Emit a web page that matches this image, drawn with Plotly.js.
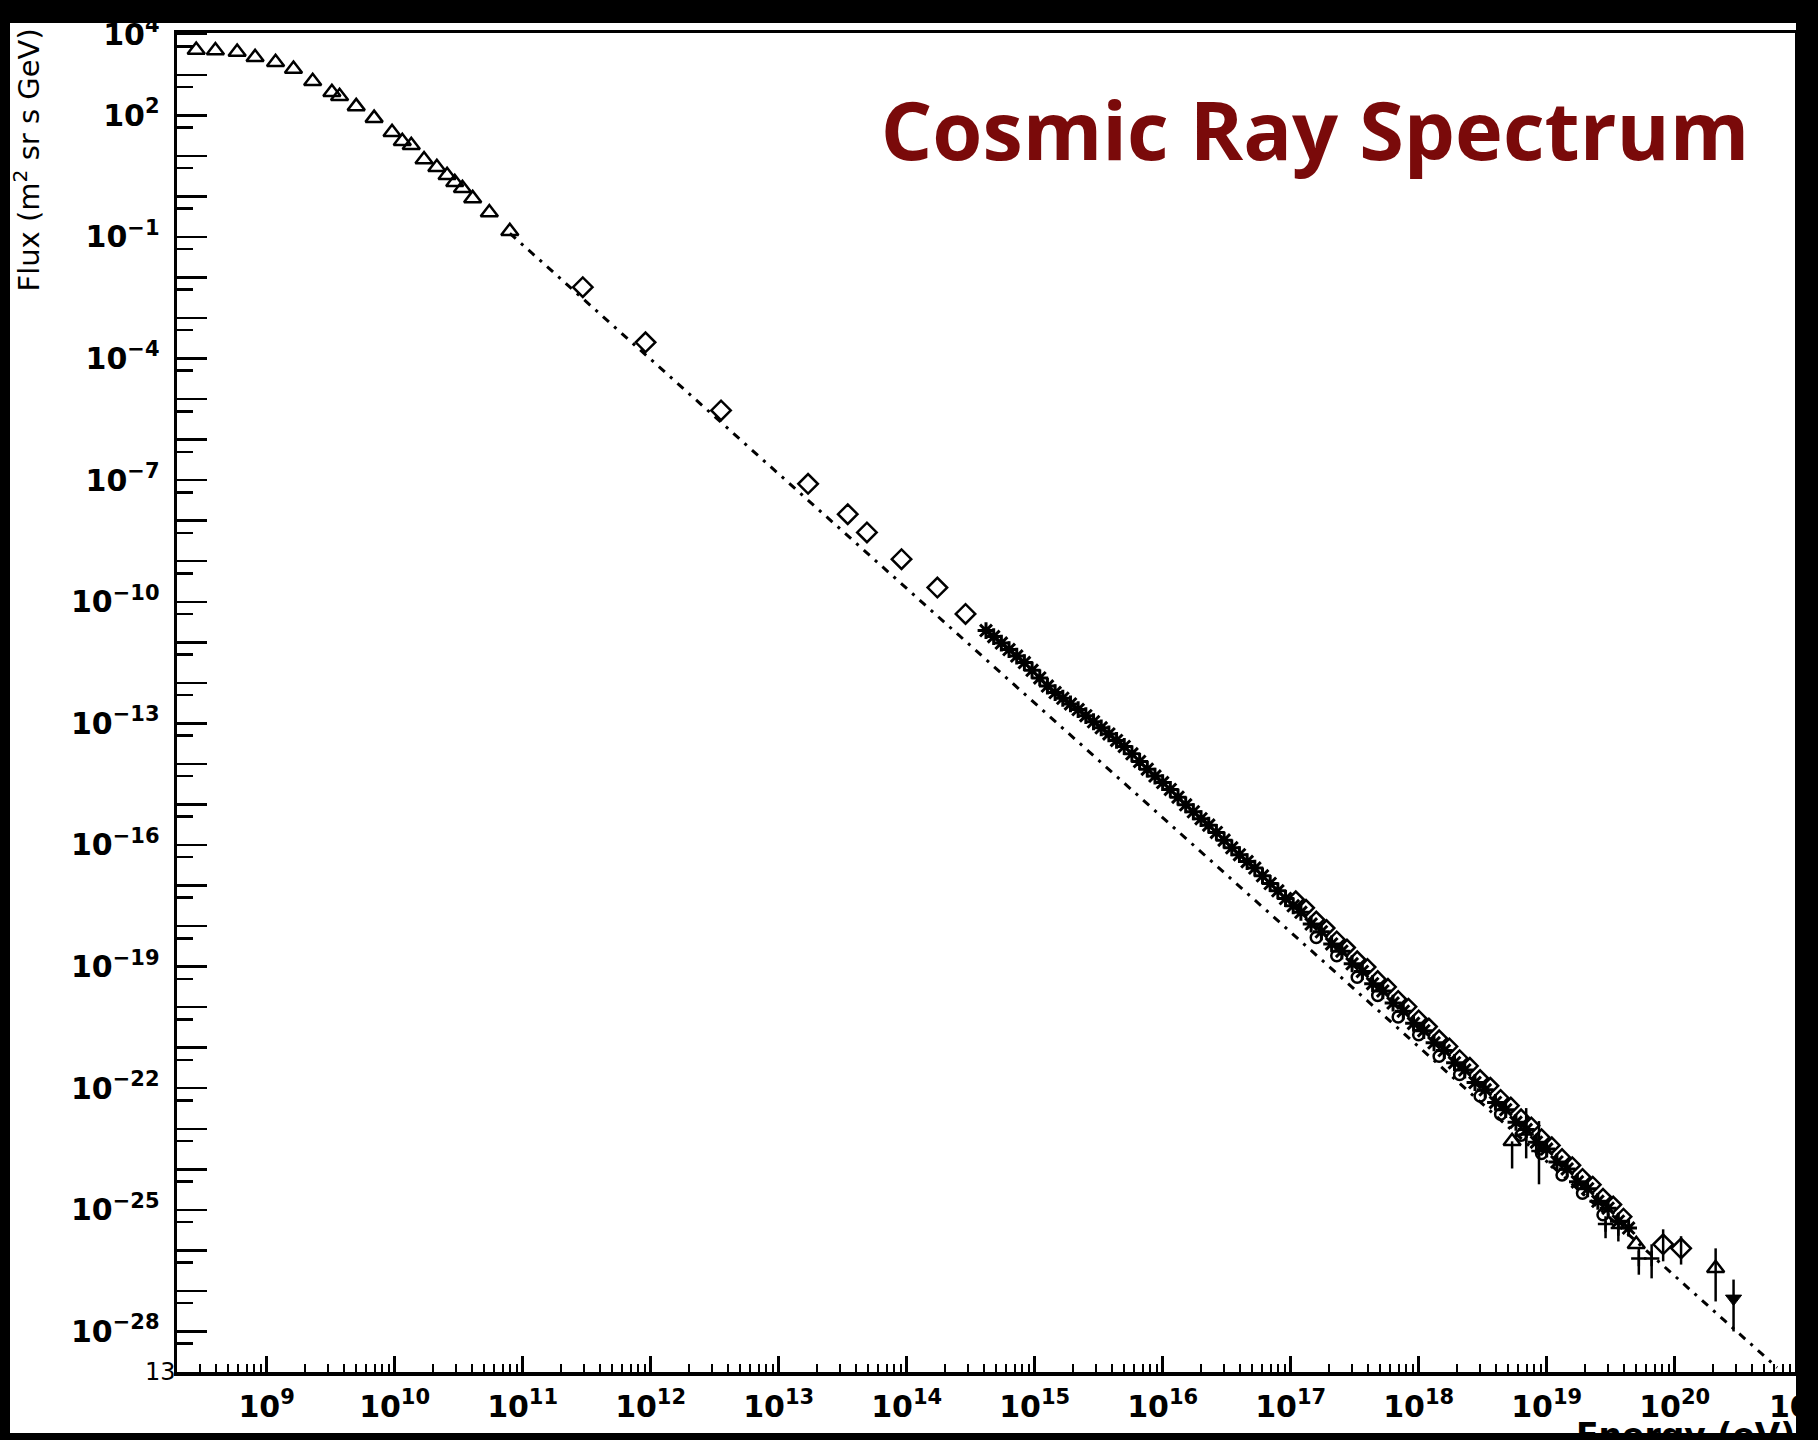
<!DOCTYPE html>
<html>
<head>
<meta charset="utf-8">
<script src="https://cdn.plot.ly/plotly-3.0.1.min.js"></script>
<style>
  html, body { margin: 0; padding: 0; background: #000; width: 1818px; height: 1440px; overflow: hidden; }
  #chart { position: absolute; left: 10px; top: 23px; width: 1786px; height: 1410px; background: #fff; }
</style>
</head>
<body>
<div id="chart"></div>
<script>
// All values are log10: energy in eV, flux in (m^2 sr s GeV)^-1

// Low-energy direct measurements (open triangles)
const triLogE = [8.45, 8.60, 8.77, 8.91, 9.07, 9.21, 9.36, 9.51, 9.57, 9.70, 9.84, 9.98, 10.06, 10.13, 10.23, 10.33, 10.41, 10.47, 10.53, 10.61, 10.74, 10.90];
const triLogF = [3.61, 3.60, 3.56, 3.43, 3.31, 3.14, 2.84, 2.57, 2.47, 2.22, 1.93, 1.58, 1.36, 1.26, 0.91, 0.72, 0.52, 0.35, 0.20, -0.05, -0.40, -0.86];

// Balloon / satellite points (open diamonds)
const diaLogE = [11.47, 11.96, 12.55, 13.23, 13.54, 13.69, 13.96, 14.24, 14.46];
const diaLogF = [-2.24, -3.60, -5.28, -7.09, -7.84, -8.29, -8.95, -9.65, -10.30];

// Air-shower band below 10^17 eV (asterisks)
const kneeLogE = [14.62, 14.68, 14.74, 14.80, 14.86, 14.92, 14.98, 15.04, 15.10, 15.16, 15.22, 15.28, 15.34, 15.40, 15.46, 15.52, 15.58, 15.64, 15.70, 15.76, 15.82, 15.88, 15.94, 16.00, 16.06, 16.12, 16.18, 16.24, 16.30, 16.36, 16.42, 16.48, 16.54, 16.60, 16.66, 16.72, 16.78, 16.84, 16.90, 16.96, 17.02];
const kneeLogF = [-10.71, -10.86, -11.02, -11.18, -11.34, -11.50, -11.69, -11.88, -12.08, -12.24, -12.38, -12.52, -12.66, -12.81, -12.96, -13.11, -13.26, -13.42, -13.57, -13.75, -13.94, -14.13, -14.30, -14.46, -14.63, -14.82, -15.01, -15.18, -15.35, -15.51, -15.69, -15.88, -16.07, -16.24, -16.41, -16.57, -16.76, -16.95, -17.13, -17.32, -17.50];

// Air-shower band above 10^17 eV (asterisks)
const ankleLogE = [17.08, 17.16, 17.24, 17.32, 17.40, 17.48, 17.56, 17.64, 17.72, 17.80, 17.88, 17.96, 18.04, 18.12, 18.20, 18.28, 18.36, 18.44, 18.52, 18.60, 18.68, 18.76, 18.84, 18.92, 19.00, 19.08, 19.16, 19.24, 19.32, 19.40, 19.48, 19.56, 19.64];
const ankleLogF = [-17.66, -17.95, -18.14, -18.44, -18.62, -18.93, -19.12, -19.42, -19.60, -19.90, -20.10, -20.40, -20.58, -20.88, -21.07, -21.37, -21.55, -21.86, -22.04, -22.35, -22.53, -22.84, -23.02, -23.33, -23.50, -23.82, -23.99, -24.31, -24.48, -24.79, -24.96, -25.28, -25.45];

// Second shower array (open diamonds)
const arrDiaLogE = [17.04, 17.12, 17.20, 17.28, 17.36, 17.44, 17.52, 17.60, 17.68, 17.76, 17.84, 17.92, 18.00, 18.08, 18.16, 18.24, 18.32, 18.40, 18.48, 18.56, 18.64, 18.72, 18.80, 18.88, 18.96, 19.04, 19.12, 19.20, 19.28, 19.36, 19.44, 19.52, 19.60];
const arrDiaLogF = [-17.34, -17.55, -17.84, -18.05, -18.33, -18.53, -18.82, -19.01, -19.31, -19.50, -19.80, -19.99, -20.28, -20.48, -20.77, -20.97, -21.26, -21.45, -21.75, -21.94, -22.24, -22.43, -22.72, -22.92, -23.21, -23.41, -23.70, -23.90, -24.19, -24.38, -24.68, -24.87, -25.17];

// Third shower array (open circles)
const arrCirLogE = [17.20, 17.36, 17.52, 17.68, 17.84, 18.00, 18.16, 18.32, 18.48, 18.64, 18.80, 18.96, 19.12, 19.28, 19.44];
const arrCirLogF = [-18.28, -18.73, -19.26, -19.71, -20.24, -20.68, -21.21, -21.66, -22.19, -22.64, -23.16, -23.61, -24.14, -24.59, -25.12];

// Highest-energy points with error bars (bar ends as log10 flux)
const barLogE = [18.84, 18.94, 19.46, 19.56, 19.72, 19.82];
const barLogF = [-23.14, -23.55, -25.35, -25.45, -26.20, -26.20];
const barTopLogF = [-22.49, -22.81, -25.28, -25.36, -25.95, -25.85];
const barBotLogF = [-23.73, -24.37, -25.70, -25.78, -26.60, -26.69];

const tailTriLogE = [18.73, 19.70, 20.32];
const tailTriLogF = [-23.31, -25.85, -26.44];
const tailTriTop = [-23.31, -25.85, -25.95];
const tailTriBot = [-23.98, -25.85, -27.26];

const tailDiaLogE = [19.91, 20.05];
const tailDiaLogF = [-25.85, -25.95];
const tailDiaTop = [-25.48, -25.65];
const tailDiaBot = [-26.27, -26.35];

const limitLogE = [20.46];
const limitLogF = [-27.19];
const limitTop = [-26.72];
const limitBot = [-28.00];

// Power-law reference line (dash-dot)
const lineLogE = [10.90, 20.80];
const lineLogF = [-0.91, -28.89];

// Axis decades
const xDecades = [9, 10, 11, 12, 13, 14, 15, 16, 17, 18, 19, 20];
const yLabelExps = [4, 2, -1, -4, -7, -10, -13, -16, -19, -22, -25, -28];
const yPlainExps = [3, 1, 0, -2, -3, -5, -6, -8, -9, -11, -12, -14, -15, -17, -18, -20, -21, -23, -24, -26, -27, -29];

const p10 = a => a.map(v => Math.pow(10, v));
const expText = e => '10<sup>' + (e < 0 ? '\u2212' + (-e) : e) + '</sup>';
const errUp = (c, t) => c.map((v, i) => Math.pow(10, t[i]) - Math.pow(10, v));
const errDn = (c, b) => c.map((v, i) => Math.pow(10, v) - Math.pow(10, b[i]));

const ink = '#000';
const tickFont = { family: 'DejaVu Sans', size: 30, color: ink, weight: 700 };

const traces = [
  { x: p10(lineLogE), y: p10(lineLogF), mode: 'lines',
    line: { color: ink, width: 3, dash: '8px,7px,3px,7px' } },
  { x: p10(triLogE), y: p10(triLogF), mode: 'markers',
    marker: { symbol: 'triangle-up-open', size: 15, color: ink, line: { width: 2.5, color: ink } } },
  { x: p10(diaLogE), y: p10(diaLogF), mode: 'markers',
    marker: { symbol: 'diamond-open', size: 15, color: ink, line: { width: 2.5, color: ink } } },
  { x: p10(kneeLogE), y: p10(kneeLogF), mode: 'markers',
    marker: { symbol: 'asterisk-open', size: 14, color: ink, line: { width: 3, color: ink } } },
  { x: p10(arrDiaLogE), y: p10(arrDiaLogF), mode: 'markers',
    marker: { symbol: 'diamond-open', size: 12, color: ink, line: { width: 2.5, color: ink } } },
  { x: p10(arrCirLogE), y: p10(arrCirLogF), mode: 'markers',
    marker: { symbol: 'circle-open', size: 11, color: ink, line: { width: 2.5, color: ink } } },
  { x: p10(ankleLogE), y: p10(ankleLogF), mode: 'markers',
    marker: { symbol: 'asterisk-open', size: 14, color: ink, line: { width: 3, color: ink } } },
  { x: p10(barLogE), y: p10(barLogF), mode: 'markers',
    marker: { symbol: 'cross-thin-open', size: 11, color: ink, line: { width: 2.5, color: ink } },
    error_y: { type: 'data', symmetric: false, array: errUp(barLogF, barTopLogF), arrayminus: errDn(barLogF, barBotLogF), color: ink, thickness: 2.5, width: 0 } },
  { x: p10(tailTriLogE), y: p10(tailTriLogF), mode: 'markers',
    marker: { symbol: 'triangle-up-open', size: 15, color: ink, line: { width: 2.5, color: ink } },
    error_y: { type: 'data', symmetric: false, array: errUp(tailTriLogF, tailTriTop), arrayminus: errDn(tailTriLogF, tailTriBot), color: ink, thickness: 2.5, width: 0 } },
  { x: p10(tailDiaLogE), y: p10(tailDiaLogF), mode: 'markers',
    marker: { symbol: 'diamond-open', size: 15, color: ink, line: { width: 2.5, color: ink } },
    error_y: { type: 'data', symmetric: false, array: errUp(tailDiaLogF, tailDiaTop), arrayminus: errDn(tailDiaLogF, tailDiaBot), color: ink, thickness: 2.5, width: 0 } },
  { x: p10(limitLogE), y: p10(limitLogF), mode: 'markers',
    marker: { symbol: 'triangle-down', size: 14, color: ink, line: { width: 1, color: ink } },
    error_y: { type: 'data', symmetric: false, array: errUp(limitLogF, limitTop), arrayminus: errDn(limitLogF, limitBot), color: ink, thickness: 2.5, width: 0 } },
  // binds the unlabelled decade ticks of the overlay axis
  { x: [], y: [], yaxis: 'y2', mode: 'markers', hoverinfo: 'skip' }
];

const xMinor = [];
[8].concat(xDecades).forEach(d => { for (let k = 2; k <= 9; k++) xMinor.push(k * Math.pow(10, d)); });
const yMinor = yLabelExps.concat(yPlainExps).map(d => 5 * Math.pow(10, d - 1));

const yRange = [-29, 4.03];

const layout = {
  width: 1786, height: 1410,
  margin: { l: 167, r: 1, t: 10, b: 61 },
  paper_bgcolor: '#fff', plot_bgcolor: '#fff',
  showlegend: false,
  title: {
    text: 'Cosmic Ray Spectrum',
    font: { family: 'Open Sans', size: 81, color: '#7a0a0a', weight: 700 },
    xref: 'container', yref: 'container',
    x: 0.7307, xanchor: 'center', y: 0.923, yanchor: 'middle'
  },
  xaxis: {
    type: 'log', range: [8.3, 20.94],
    showgrid: false, zeroline: false,
    showline: true, linecolor: ink, linewidth: 3.5, mirror: true,
    ticks: 'inside', ticklen: 16, tickwidth: 2.5, tickcolor: ink,
    tickmode: 'array', tickvals: p10(xDecades), ticktext: xDecades.map(expText),
    ticklabelstandoff: 5, ticklabeloverflow: 'allow',
    tickfont: tickFont,
    minor: { tickmode: 'array', tickvals: xMinor, ticks: 'inside', ticklen: 8, tickwidth: 2, tickcolor: ink, showgrid: false }
  },
  yaxis: {
    type: 'log', range: yRange,
    showgrid: false, zeroline: false,
    showline: true, linecolor: ink, linewidth: 3.5, mirror: true,
    ticks: 'inside', ticklen: 30, tickwidth: 2.5, tickcolor: ink,
    tickmode: 'array', tickvals: p10(yLabelExps), ticktext: yLabelExps.map(expText),
    ticklabelstandoff: 8, ticklabeloverflow: 'allow',
    tickfont: tickFont,
    minor: { tickmode: 'array', tickvals: yMinor, ticks: 'inside', ticklen: 16, tickwidth: 2.5, tickcolor: ink, showgrid: false }
  },
  yaxis2: {
    type: 'log', range: yRange, overlaying: 'y', anchor: 'x', side: 'left',
    showgrid: false, zeroline: false, showline: false, showticklabels: false,
    ticks: 'inside', ticklen: 30, tickwidth: 2.5, tickcolor: ink,
    tickmode: 'array', tickvals: p10(yPlainExps)
  },
  annotations: [
    { text: 'Flux (m<sup>2</sup> sr s GeV)', textangle: -90, showarrow: false,
      xref: 'paper', yref: 'paper', x: -0.0925, y: 0.905, xanchor: 'center', yanchor: 'middle',
      font: { family: 'DejaVu Sans', size: 29, color: ink } },
    { text: 'Energy (eV)', showarrow: false,
      xref: 'paper', yref: 'paper', x: 1.0012, y: -0.0312, xanchor: 'right', yanchor: 'top',
      font: { family: 'DejaVu Sans', size: 33, color: ink, weight: 700 } },
    { text: '13', showarrow: false,
      xref: 'paper', yref: 'paper', x: -0.0099, y: 0, xanchor: 'center', yanchor: 'middle',
      font: { family: 'DejaVu Sans', size: 24, color: ink } },
    { text: expText(21), showarrow: false,
      xref: 'paper', yref: 'paper', x: 1.0056, y: -0.024, xanchor: 'center', yanchor: 'middle',
      font: tickFont }
  ]
};

Plotly.newPlot('chart', traces, layout, { displayModeBar: false, staticPlot: true });
</script>
</body>
</html>
